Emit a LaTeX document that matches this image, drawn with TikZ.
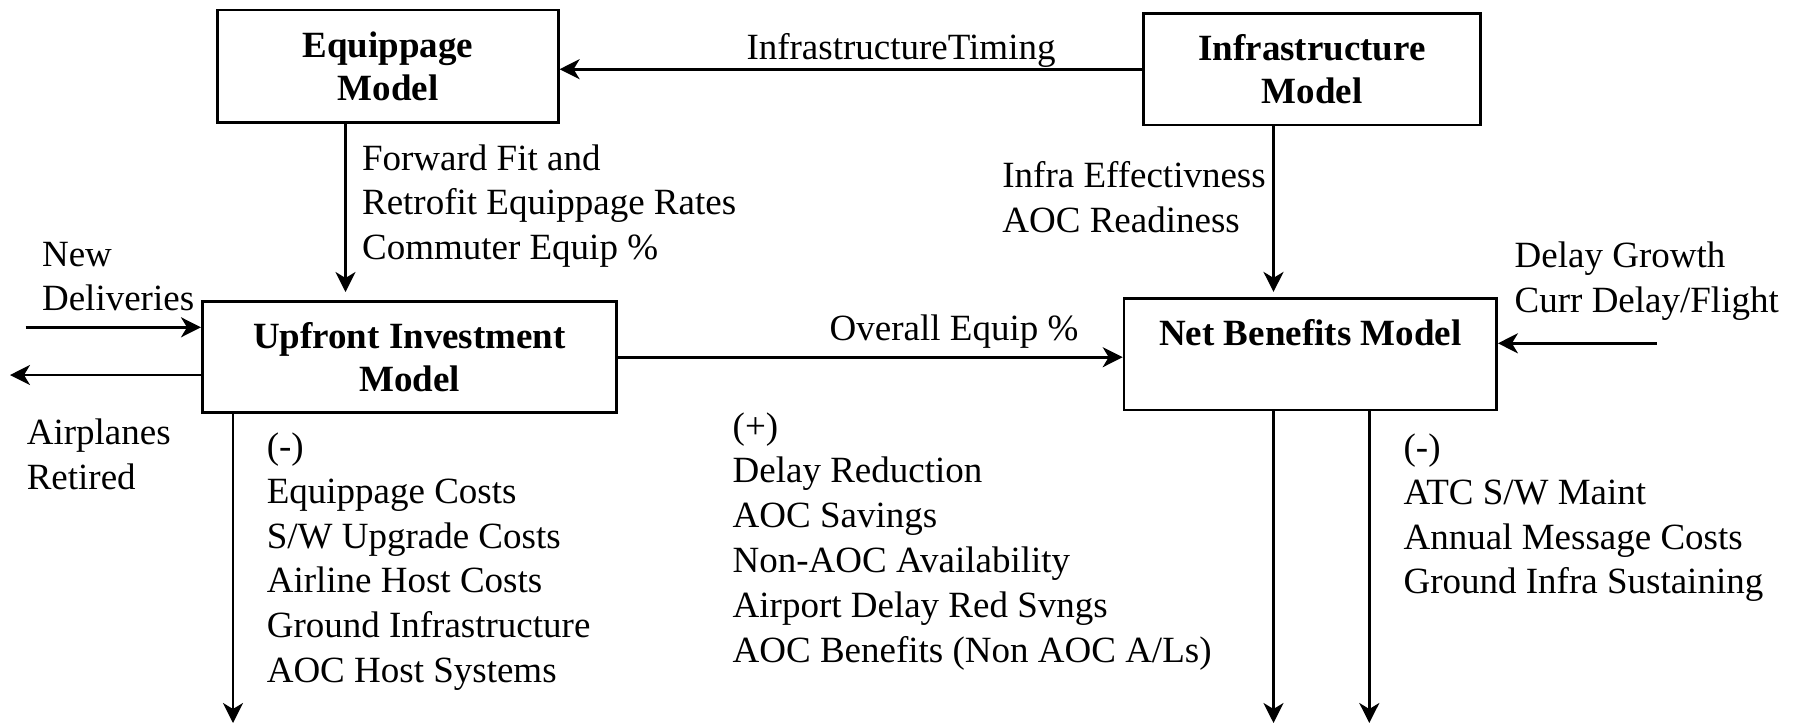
\documentclass[tikz,border=0pt]{standalone}
\usepackage{fontspec}
\setmainfont{Liberation Serif}
\usetikzlibrary{arrows.meta}

\begin{document}
\begin{tikzpicture}[x=0.5pt, y=-0.5pt,
  model/.style={draw, line width=1.3pt, align=center, inner sep=0pt,
    font=\bfseries\fontsize{18.5}{21.5}\selectfont},
  flow/.style={line width=1.3pt, -{Stealth[length=10pt, width=10pt, inset=3pt]}},
  txt/.style={align=left, inner sep=0pt, font=\fontsize{18.5}{22.4}\selectfont}]

\useasboundingbox (0,0) rectangle (1800,725); %% page size

%% models
\node[model, minimum width=170.3pt, minimum height=56.2pt] (equip) at (388,66.2) {Equippage\\Model};
\node[model, minimum width=168.7pt, minimum height=55.9pt] (infra) at (1312,69.2) {Infrastructure\\Model};
\node[model, minimum width=207.2pt, minimum height=55.5pt] (upfront) at (409.5,357.2) {Upfront Investment\\Model};
\node[model, minimum width=186.3pt, minimum height=55.7pt] (net) at (1310.3,354.3) {Net Benefits Model\\\mbox{}};

%% free ends
\coordinate (eqdown) at (345.5,0);
\coordinate (infdown) at (1273.5,0);
\coordinate (updown) at (233,723);
\coordinate (netdownA) at (1273.5,723);
\coordinate (netdownB) at (1369.3,723);
\coordinate (delin) at (1656.7,343.3);
\coordinate (newin) at (25.7,327.3);
\coordinate (retout) at (10,375);

%% flows
\draw[flow] (infra.west) -- (infra.west -| equip.east);
\draw[flow, shorten >=4.2pt] (equip.south -| eqdown) -- (upfront.north -| eqdown);
\draw[flow, shorten >=2.7pt] (infra.south -| infdown) -- (net.north -| infdown);
\draw[flow] (upfront.east) -- (upfront.east -| net.west);
\draw[flow] (delin) -- (delin -| net.east);
\draw[flow] (newin) -- (newin -| upfront.west);
\draw[flow] (upfront.west |- retout) -- (retout);
\draw[flow] (upfront.south -| updown) -- (updown);
\draw[flow] (net.south -| netdownA) -- (netdownA);
\draw[flow] (net.south -| netdownB) -- (netdownB);

%% labels
\node[txt, anchor=base] (timing) at (901,59) {InfrastructureTiming};
\node[txt, anchor=base west] (overall) at (829.3,340) {Overall Equip \%};
\node[txt, anchor=north west] (fwdfit) at (361.7,144)
  {Forward Fit and\\Retrofit Equippage Rates\\Commuter Equip \%};
\node[txt, anchor=north west] (infeff) at (1002,161.5)
  {Infra Effectivness\\AOC Readiness};
\node[txt, anchor=north west] (newdel) at (41.7,241.5) {New\\Deliveries};
\node[txt, anchor=north west] (retired) at (26.4,418.5) {Airplanes\\Retired};
\node[txt, anchor=north west] (delgrow) at (1514.3,241.5)
  {Delay Growth\\Curr Delay/Flight};
\node[txt, anchor=north west] (upcost) at (266.4,432.5)
  {(-)\\Equippage Costs\\S/W Upgrade Costs\\Airline Host Costs\\Ground Infrastructure\\AOC Host Systems};
\node[txt, anchor=north west] (benefit) at (732.3,412)
  {(+)\\Delay Reduction\\AOC Savings\\Non-AOC Availability\\Airport Delay Red Svngs\\AOC Benefits (Non AOC A/Ls)};
\node[txt, anchor=north west] (netcost) at (1403.2,433.5)
  {(-)\\ATC S/W Maint\\Annual Message Costs\\Ground Infra Sustaining};

\end{tikzpicture}
\end{document}
